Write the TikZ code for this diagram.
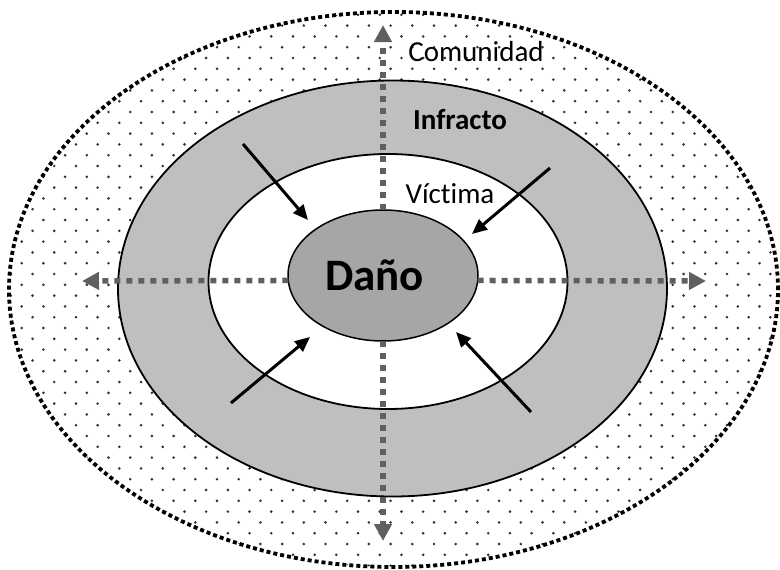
\documentclass[tikz,border=0pt]{standalone}
\usepackage{fontspec}
\setmainfont{Carlito}[Ligatures=NoCommon]
\usetikzlibrary{arrows.meta,shapes.geometric,positioning}
\definecolor{ringgray}{RGB}{191,191,191}
\definecolor{coregray}{RGB}{166,166,166}
\definecolor{axisgray}{RGB}{95,95,95}
\tikzset{%
   ring/.style={
      ellipse,
      inner sep=0mm,
      outer sep=0mm,
      draw=black,
      line width=1.8pt
   },
   lbl/.style={
      inner sep=0pt,
      font=\fontsize{29}{31}\selectfont
   },
   axis/.style={
      draw=axisgray,
      line width=5.5pt,
      dash pattern=on 6pt off 6pt,
      -{Triangle[length=17pt,width=17pt]}
   },
   push/.style={
      draw=black,
      line width=3pt,
      -{Triangle[length=15pt,width=13pt]}
   },
}

\begin{document}
\begin{tikzpicture}[x=1pt, y=-1pt]
   \useasboundingbox (0,0) rectangle (780,570);
   % dotted community area
   \begin{scope}
      \clip (393.5,289.5) ellipse [x radius=384.5, y radius=277.5];
      \foreach \j in {0,...,52}
         \foreach \i in {0,...,36}
            \fill[black!80] ({\i*21.7+mod(\j,2)*10.85},{4+\j*10.8}) circle (1.45pt);
   \end{scope}
   \node[ring, line width=3.8pt, dash pattern=on 4pt off 3pt,
         minimum width=769pt, minimum height=555pt] (com) at (393.5,289.5) {};
   \node[ring, fill=ringgray, minimum width=549pt, minimum height=416pt] (inf) at (392.5,288.5) {};
   \node[ring, fill=white, minimum width=359pt, minimum height=255pt] (vic) at (388,281.5) {};
   \node[ring, fill=coregray, line width=1.5pt,
         minimum width=190pt, minimum height=131pt] (dano) at (383,275.5) {};
   % labels
   \node[lbl] (comtxt) at (476,52) {Comunidad};
   \node[lbl, font=\bfseries\fontsize{29}{31}\selectfont] (inftxt) at (460,120) {Infracto};
   \node[lbl] (victxt) at (450,194) {Víctima};
   \node[lbl, font=\bfseries\fontsize{45}{48}\selectfont] (danotxt) at (374.5,275) {Daño};
   % axes out of the harm
   \coordinate (axn) at (383,25);
   \coordinate (axs) at (383,541);
   \coordinate (axw) at (82,281);
   \coordinate (axe) at (706,281);
   \draw[axis] (dano.north) -- (axn);
   \draw[axis] (dano.south) -- (axs);
   \draw[axis] (dano.183) -- (axw);
   \draw[axis] (dano.357) -- (axe);
   % arrows into the harm
   \coordinate (nw) at (243,144);
   \coordinate (nwend) at (308,220);
   \coordinate (ne) at (550,168);
   \coordinate (neend) at (472,234);
   \coordinate (sw) at (231,403);
   \coordinate (swend) at (310,337);
   \coordinate (se) at (531,412);
   \coordinate (seend) at (456,332);
   \draw[push] (nw) -- (nwend);
   \draw[push] (ne) -- (neend);
   \draw[push] (sw) -- (swend);
   \draw[push] (se) -- (seend);
\end{tikzpicture}
\end{document}
